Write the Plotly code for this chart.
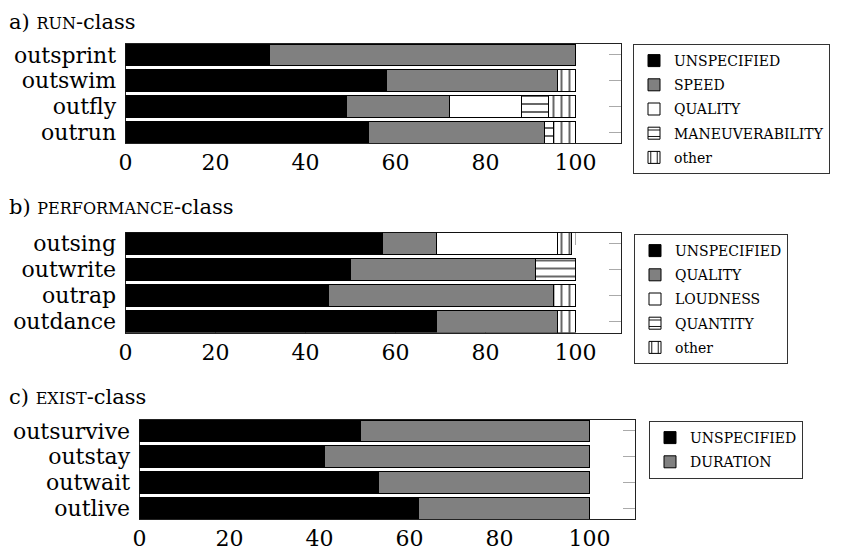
import plotly.graph_objects as go

# ---------------- data ----------------
run_categories = ["outsprint", "outswim", "outfly", "outrun"]
run_unspecified = [32, 58, 49, 54]
run_speed = [68, 38, 23, 39]
run_quality = [0, 0, 16, 0]
run_maneuverability = [0, 0, 6, 2]
run_other = [0, 4, 6, 5]

perf_categories = ["outsing", "outwrite", "outrap", "outdance"]
perf_unspecified = [57, 50, 45, 69]
perf_quality = [12, 41, 50, 27]
perf_loudness = [27, 0, 0, 0]
perf_quantity = [0, 9, 0, 0]
perf_other = [3, 0, 5, 4]

exist_categories = ["outsurvive", "outstay", "outwait", "outlive"]
exist_unspecified = [49, 41, 53, 62]
exist_duration = [51, 59, 47, 38]

x_ticks = [0, 20, 40, 60, 80, 100]

# the page body adds an 8px offset; size the figure so it ends at the window edge
OFF = 8
W, H = 859 - OFF, 551 - OFF
FONT = "DejaVu Serif"


def px(x):
    return (x - OFF) / W


def py(y):
    return 1 - (y - OFF) / H


STYLE = {
    "solid_black": dict(color="black"),
    "gray": dict(color="#808080"),
    "white": dict(color="white"),
    "hlines": dict(color="white", pattern=dict(shape="-", fgcolor="black", bgcolor="white", size=8, solidity=0.15, fillmode="replace")),
    "vlines": dict(color="white", pattern=dict(shape="|", fgcolor="black", bgcolor="white", size=8, solidity=0.15, fillmode="replace")),
}

panels = [
    dict(cats=run_categories,
         series=[("UNSPECIFIED", run_unspecified, "solid_black"),
                 ("SPEED", run_speed, "gray"),
                 ("QUALITY", run_quality, "white"),
                 ("MANEUVERABILITY", run_maneuverability, "hlines"),
                 ("other", run_other, "vlines")]),
    dict(cats=perf_categories,
         series=[("UNSPECIFIED", perf_unspecified, "solid_black"),
                 ("QUALITY", perf_quality, "gray"),
                 ("LOUDNESS", perf_loudness, "white"),
                 ("QUANTITY", perf_quantity, "hlines"),
                 ("other", perf_other, "vlines")]),
    dict(cats=exist_categories,
         series=[("UNSPECIFIED", exist_unspecified, "solid_black"),
                 ("DURATION", exist_duration, "gray")]),
]

# pixel boxes of the plot areas in the window: (left, right, top, bottom)
boxes = [(125.5, 620.5, 44, 143), (125.5, 620.5, 232.5, 332.5), (139.5, 634.5, 420, 519)]
legend_pos = [(633, 44, 172), (634, 234, 130), (649, 421, 130)]

fig = go.Figure()
for i, p in enumerate(panels):
    sfx = "" if i == 0 else str(i + 1)
    for j, (name, vals, st) in enumerate(p["series"]):
        marker = dict(STYLE[st])
        marker["line"] = dict(color="black", width=1)
        fig.add_trace(go.Bar(
            x=vals, y=p["cats"], orientation="h", name=name,
            marker=marker, xaxis="x" + sfx, yaxis="y" + sfx,
            legend="legend" + sfx, legendgroup=f"g{i}_{j}",
            hoverinfo="skip",
        ))
    l, r, t, b = boxes[i]
    axis_common = dict(showline=True, linecolor="#222", linewidth=1, mirror="ticks",
                       ticks="inside", ticklen=12, tickcolor="#aaaaaa", tickwidth=1.2,
                       showgrid=False, zeroline=False, layer="below traces", automargin=False,
                       tickfont=dict(family=FONT, size=22, color="black"))
    fig.layout["xaxis" + sfx] = dict(axis_common, domain=[px(l), px(r)], range=[0, 110],
                                     tickmode="array", tickvals=x_ticks, anchor="y" + sfx)
    fig.layout["yaxis" + sfx] = dict(axis_common, domain=[py(b), py(t)],
                                     type="category", categoryorder="array", categoryarray=p["cats"],
                                     tickmode="array", tickvals=p["cats"], ticktext=p["cats"],
                                     ticklabelstandoff=4,
                                     range=[3.425, -0.425], anchor="x" + sfx)
    lx, ly, ew = legend_pos[i]
    fig.layout["legend" + sfx] = dict(x=px(lx), y=py(ly), xanchor="left", yanchor="top",
                                      bordercolor="#333", borderwidth=1, bgcolor="white",
                                      font=dict(family=FONT, size=14, color="black"),
                                      entrywidth=ew, entrywidthmode="pixels",
                                      tracegroupgap=3, traceorder="grouped")

titles = [('a) <span style="font-size:16px">RUN</span>-class', 8),
          ('b) <span style="font-size:16px">PERFORMANCE</span>-class', 193),
          ('c) <span style="font-size:16px">EXIST</span>-class', 383)]
for txt, ytop in titles:
    fig.add_annotation(text=txt, x=px(7), y=py(ytop), xref="paper", yref="paper",
                       xanchor="left", yanchor="top", showarrow=False,
                       font=dict(family=FONT, size=21, color="black"))

fig.update_layout(width=W, height=H, margin=dict(l=0, r=0, t=0, b=0, autoexpand=False),
                  barmode="stack", bargap=0.15, plot_bgcolor="white", paper_bgcolor="white",
                  showlegend=True)

fig.write_html("out.html")
